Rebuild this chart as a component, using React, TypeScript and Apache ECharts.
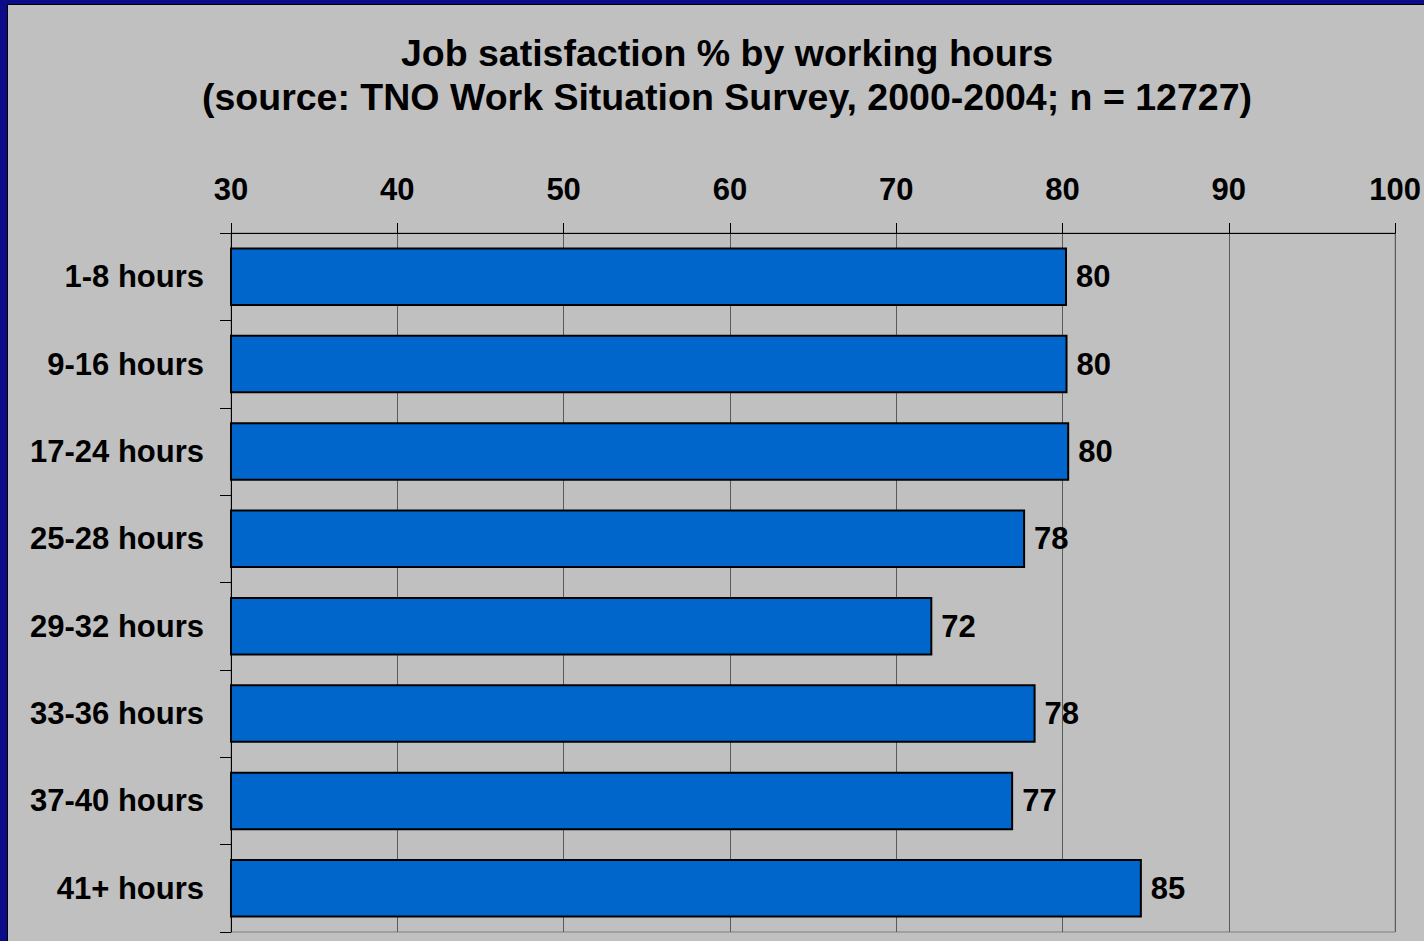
import React, { useEffect, useRef } from "react";
import * as echarts from "echarts";

const titleLines = [
  "Job satisfaction % by working hours",
  "(source: TNO Work Situation Survey, 2000-2004; n = 12727)",
];
const categories = [
  "1-8 hours",
  "9-16 hours",
  "17-24 hours",
  "25-28 hours",
  "29-32 hours",
  "33-36 hours",
  "37-40 hours",
  "41+ hours",
];
const satisfaction = [80.27, 80.3, 80.4, 77.75, 72.17, 78.38, 77.03, 84.77];
const axisMin = 30;
const axisMax = 100;
const axisStep = 10;

const FONT = "'Liberation Sans', Arial, Helvetica, sans-serif";

export default function App() {
  const ref = useRef<HTMLDivElement>(null);
  useEffect(() => {
    if (!ref.current) return;
    const chart = echarts.init(ref.current, undefined, { renderer: "svg" });
    chart.setOption({
      animation: false,
      backgroundColor: "#0c0c88",
      textStyle: { fontFamily: FONT },
      graphic: [
        {
          type: "rect",
          z: -10,
          shape: { x: 7.5, y: 4.5, width: 1430, height: 950 },
          style: { fill: "#c0c0c0", stroke: "#000000", lineWidth: 1 },
        },
        {
          type: "text",
          x: 727,
          y: 53,
          style: {
            text: titleLines[0],
            fontFamily: FONT,
            fontSize: 37.5,
            fontWeight: "bold",
            fill: "#000000",
            align: "center",
            verticalAlign: "middle",
          },
        },
        {
          type: "text",
          x: 727,
          y: 97,
          style: {
            text: titleLines[1],
            fontFamily: FONT,
            fontSize: 37.5,
            fontWeight: "bold",
            fill: "#000000",
            align: "center",
            verticalAlign: "middle",
          },
        },
      ],
      grid: {
        left: 231,
        top: 233,
        right: 26,
        bottom: 9,
        containLabel: false,
        show: true,
        backgroundColor: "transparent",
        borderColor: "#808080",
        borderWidth: 1,
      },
      xAxis: {
        type: "value",
        position: "top",
        min: axisMin,
        max: axisMax,
        interval: axisStep,
        axisLine: { show: true, lineStyle: { color: "#000000", width: 1 } },
        axisTick: { show: true, length: 10, lineStyle: { color: "#000000" } },
        axisLabel: {
          fontSize: 31,
          fontWeight: "bold",
          color: "#000000",
          fontFamily: FONT,
          margin: 28,
        },
        splitLine: { show: true, lineStyle: { color: "#5a5a5a", width: 1 } },
      },
      yAxis: {
        type: "category",
        inverse: true,
        data: categories,
        axisLine: { show: true, lineStyle: { color: "#000000", width: 1 } },
        axisTick: { show: true, length: 11, lineStyle: { color: "#000000" } },
        axisLabel: {
          fontSize: 31,
          fontWeight: "bold",
          color: "#000000",
          fontFamily: FONT,
          margin: 27,
        },
        splitLine: { show: false },
      },
      series: [
        {
          type: "bar",
          data: satisfaction,
          barCategoryGap: "33%",
          itemStyle: { color: "#0066cc", borderColor: "#000000", borderWidth: 2 },
          label: {
            show: true,
            position: "right",
            distance: 9,
            fontSize: 31,
            fontWeight: "bold",
            color: "#000000",
            fontFamily: FONT,
            formatter: (p: any) => String(Math.round(p.value)),
          },
        },
      ],
    });
    return () => chart.dispose();
  }, []);
  return (
    <div
      ref={ref}
      style={{ position: "fixed", left: 0, top: 0, width: 1424, height: 941 }}
    />
  );
}
